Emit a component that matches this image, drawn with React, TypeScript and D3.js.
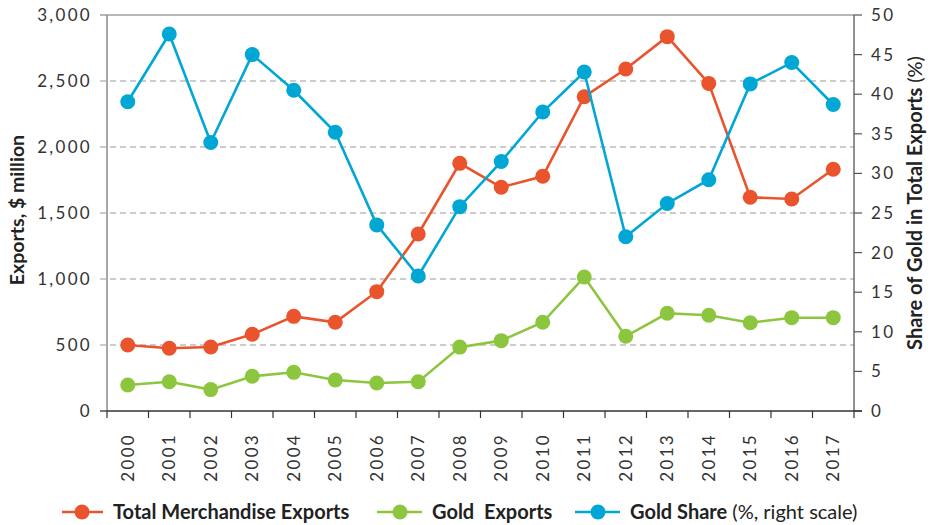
import React from "react";
import * as d3 from "d3";

const years = ["2000","2001","2002","2003","2004","2005","2006","2007","2008","2009","2010","2011","2012","2013","2014","2015","2016","2017"];
const totalExports = [500, 475, 485, 581, 717, 672, 904, 1341, 1876, 1695, 1778, 2381, 2591, 2836, 2482, 1619, 1606, 1831];
const goldExports = [197, 222, 162, 263, 293, 235, 212, 222, 484, 533, 672, 1015, 566, 740, 725, 669, 707, 707];
const goldShare = [39.05, 47.6, 33.9, 45.0, 40.5, 35.2, 23.5, 17.05, 25.8, 31.5, 37.75, 42.8, 22.0, 26.2, 29.2, 41.3, 44.0, 38.7];
const leftTicks = [0, 500, 1000, 1500, 2000, 2500, 3000];
const rightTicks = [0, 5, 10, 15, 20, 25, 30, 35, 40, 45, 50];

const ORANGE = "#EA542D";
const GREEN = "#8CC63F";
const BLUE = "#00A7D5";

const W = 931, H = 525;
const L = 107, R = 854, T = 15, B = 411;
const FONT = "Lato, 'Open Sans', sans-serif";

export default function App() {
  const x = d3.scaleBand().domain(years).range([L, R]).padding(0);
  const yL = d3.scaleLinear().domain([0, 3000]).range([B, T]);
  const yR = d3.scaleLinear().domain([0, 50]).range([B, T]);
  const cx = (y: string) => (x(y) as number) + x.bandwidth() / 2;

  const series = [
    { vals: totalExports, scale: yL, color: ORANGE },
    { vals: goldExports, scale: yL, color: GREEN },
    { vals: goldShare, scale: yR, color: BLUE },
  ];

  const tickStyle = { fontFamily: FONT, fontSize: 17, fill: "#333", letterSpacing: "2.3px" } as const;

  const boundaries = years.map((y) => x(y) as number).concat([R]);

  const legend = [
    { x0: 62, x1: 103, cx: 82, tx: 113, color: ORANGE, bold: "Total Merchandise Exports", rest: "" },
    { x0: 377, x1: 422, cx: 400, tx: 432, color: GREEN, bold: "Gold\u00A0 Exports", rest: "" },
    { x0: 575, x1: 620, cx: 598, tx: 630, color: BLUE, bold: "Gold Share", rest: " (%, right scale)" },
  ];

  return (
    <svg width={W} height={H} style={{ display: "block", position: "absolute", left: 0, top: 0 }}>
      <rect x={0} y={0} width={W} height={H} fill="#fff" />
      {leftTicks.filter((t) => t > 0 && t < 3000).map((t) => (
        <line key={t} x1={L - 7} x2={R} y1={yL(t)} y2={yL(t)} stroke="#9a9a9a" strokeWidth={1.2} strokeDasharray="6,4" />
      ))}
      <line x1={L - 7} x2={R} y1={T} y2={T} stroke="#a0a0a0" strokeWidth={1.3} />
      <line x1={L} x2={L} y1={T} y2={B} stroke="#8a8a8a" strokeWidth={1.5} />
      <line x1={L - 7} x2={L} y1={B} y2={B} stroke="#333" strokeWidth={1.3} />
      {leftTicks.map((t) => (
        <text key={t} x={92} y={yL(t)} dy="0.35em" textAnchor="end" {...tickStyle}>
          {d3.format(",")(t)}
        </text>
      ))}
      <line x1={R} x2={R} y1={T} y2={B} stroke="#555" strokeWidth={1.3} />
      {rightTicks.map((t) => (
        <g key={t}>
          <line x1={R} x2={R + 8} y1={yR(t)} y2={yR(t)} stroke="#555" strokeWidth={1.2} />
          <text x={871} y={yR(t)} dy="0.35em" textAnchor="start" {...tickStyle}>{t}</text>
        </g>
      ))}
      <line x1={L} x2={R + 8} y1={B} y2={B} stroke="#333" strokeWidth={1.4} />
      {boundaries.map((b, i) => (
        <line key={i} x1={b} x2={b} y1={B} y2={B + 7} stroke="#333" strokeWidth={1.2} />
      ))}
      {years.map((y) => (
        <text key={y} transform={`translate(${cx(y) + 6},${433}) rotate(-90)`} textAnchor="end" {...tickStyle}>
          {y}
        </text>
      ))}
      <text transform={`translate(24,210) rotate(-90)`} textAnchor="middle" fontFamily={FONT} fontWeight={700} fontSize={19.5} fill="#222">
        Exports, $ million
      </text>
      <text transform={`translate(922,203) rotate(-90)`} textAnchor="middle" fontFamily={FONT} fontWeight={700} fontSize={20} fill="#222">
        Share of Gold in Total Exports <tspan fontWeight={400}>(%)</tspan>
      </text>
      {series.map((s, si) => {
        const line = d3.line<number>().x((_, i) => cx(years[i])).y((v) => s.scale(v));
        return (
          <g key={si}>
            <path d={line(s.vals) as string} fill="none" stroke={s.color} strokeWidth={2.6} />
            {s.vals.map((v, i) => (
              <circle key={i} cx={cx(years[i])} cy={s.scale(v)} r={7.5} fill={s.color} />
            ))}
          </g>
        );
      })}
      {legend.map((l, i) => (
        <g key={i}>
          <line x1={l.x0} x2={l.x1} y1={512} y2={512} stroke={l.color} strokeWidth={2.6} />
          <circle cx={l.cx} cy={512} r={7.5} fill={l.color} />
          <text x={l.tx} y={512} dy="0.36em" fontFamily={FONT} fontSize={20} fontWeight={700} fill="#222">
            {l.bold}
            {l.rest && <tspan fontWeight={400}>{l.rest}</tspan>}
          </text>
        </g>
      ))}
    </svg>
  );
}
